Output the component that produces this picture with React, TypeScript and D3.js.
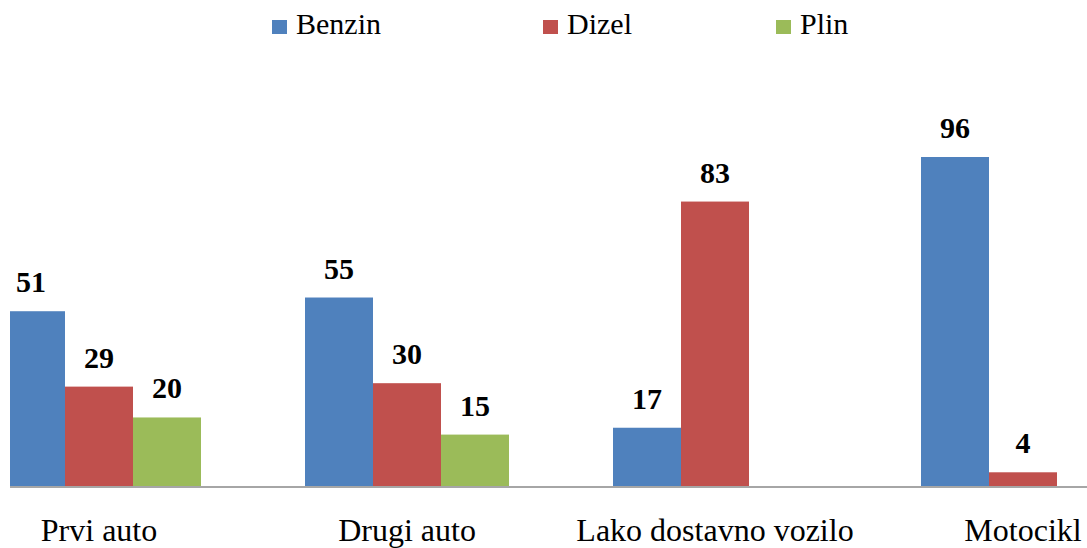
import React from 'react';
import * as d3 from 'd3';

const categories = ['Prvi auto', 'Drugi auto', 'Lako dostavno vozilo', 'Motocikl'];
const seriesNames = ['Benzin', 'Dizel', 'Plin'];
const benzin = [51, 55, 17, 96];
const dizel = [29, 30, 83, 4];
const plin = [20, 15, null, null];

const colors = ['#4F81BD', '#C0504D', '#9BBB59'];
const legendX = [272, 543, 776];

const W = 1087;
const H = 548;
const FONT = "'Times New Roman', 'Liberation Serif', serif";

const App = () => {
    const values = [benzin, dizel, plin];

    const x0 = d3.scaleBand().domain(categories).range([-55, 1177]);
    const x1 = d3.scaleBand().domain(seriesNames).range([52, 256]);
    const y = d3.scaleLinear().domain([0, 100]).range([486, 143.3]);

    const bars = [];
    categories.forEach((c, i) => {
        seriesNames.forEach((s, j) => {
            const v = values[j][i];
            if (v == null) return;
            bars.push({ key: c + s, x: x0(c) + x1(s), value: v, color: colors[j] });
        });
    });

    return (
        <svg width={W} height={H}
             style={{ position: 'absolute', left: 0, top: 0, background: '#fff', fontFamily: FONT }}>
            <defs>
                <clipPath id="plotclip">
                    <rect x={10} y={0} width={W - 10} height={H} />
                </clipPath>
            </defs>
            <g clipPath="url(#plotclip)">
                {bars.map(b => (
                    <rect key={b.key} x={b.x} y={y(b.value)} width={x1.bandwidth()}
                          height={y(0) - y(b.value)} fill={b.color} />
                ))}
            </g>
            {/* value labels, kept inside the plot area */}
            {bars.map(b => (
                <text key={'l' + b.key} x={Math.max(b.x + x1.bandwidth() / 2, 27)} y={y(b.value) - 19}
                      textAnchor="middle" fontWeight="bold" fontSize={30} fill="#000">
                    {b.value}
                </text>
            ))}
            <line x1={10} x2={W} y1={y(0) + 1} y2={y(0) + 1} stroke="#A6A6A6" strokeWidth={2} />
            {categories.map(c => (
                <text key={c} x={x0(c) + x0.bandwidth() / 2} y={541} textAnchor="middle"
                      fontSize={32} fill="#000">
                    {c}
                </text>
            ))}
            {seriesNames.map((s, i) => (
                <g key={s} transform={`translate(${legendX[i]},0)`}>
                    <rect x={0} y={20} width={15} height={14} fill={colors[i]} />
                    <text x={24} y={34} fontSize={30} fill="#000">{s}</text>
                </g>
            ))}
        </svg>
    );
};

export default App;
